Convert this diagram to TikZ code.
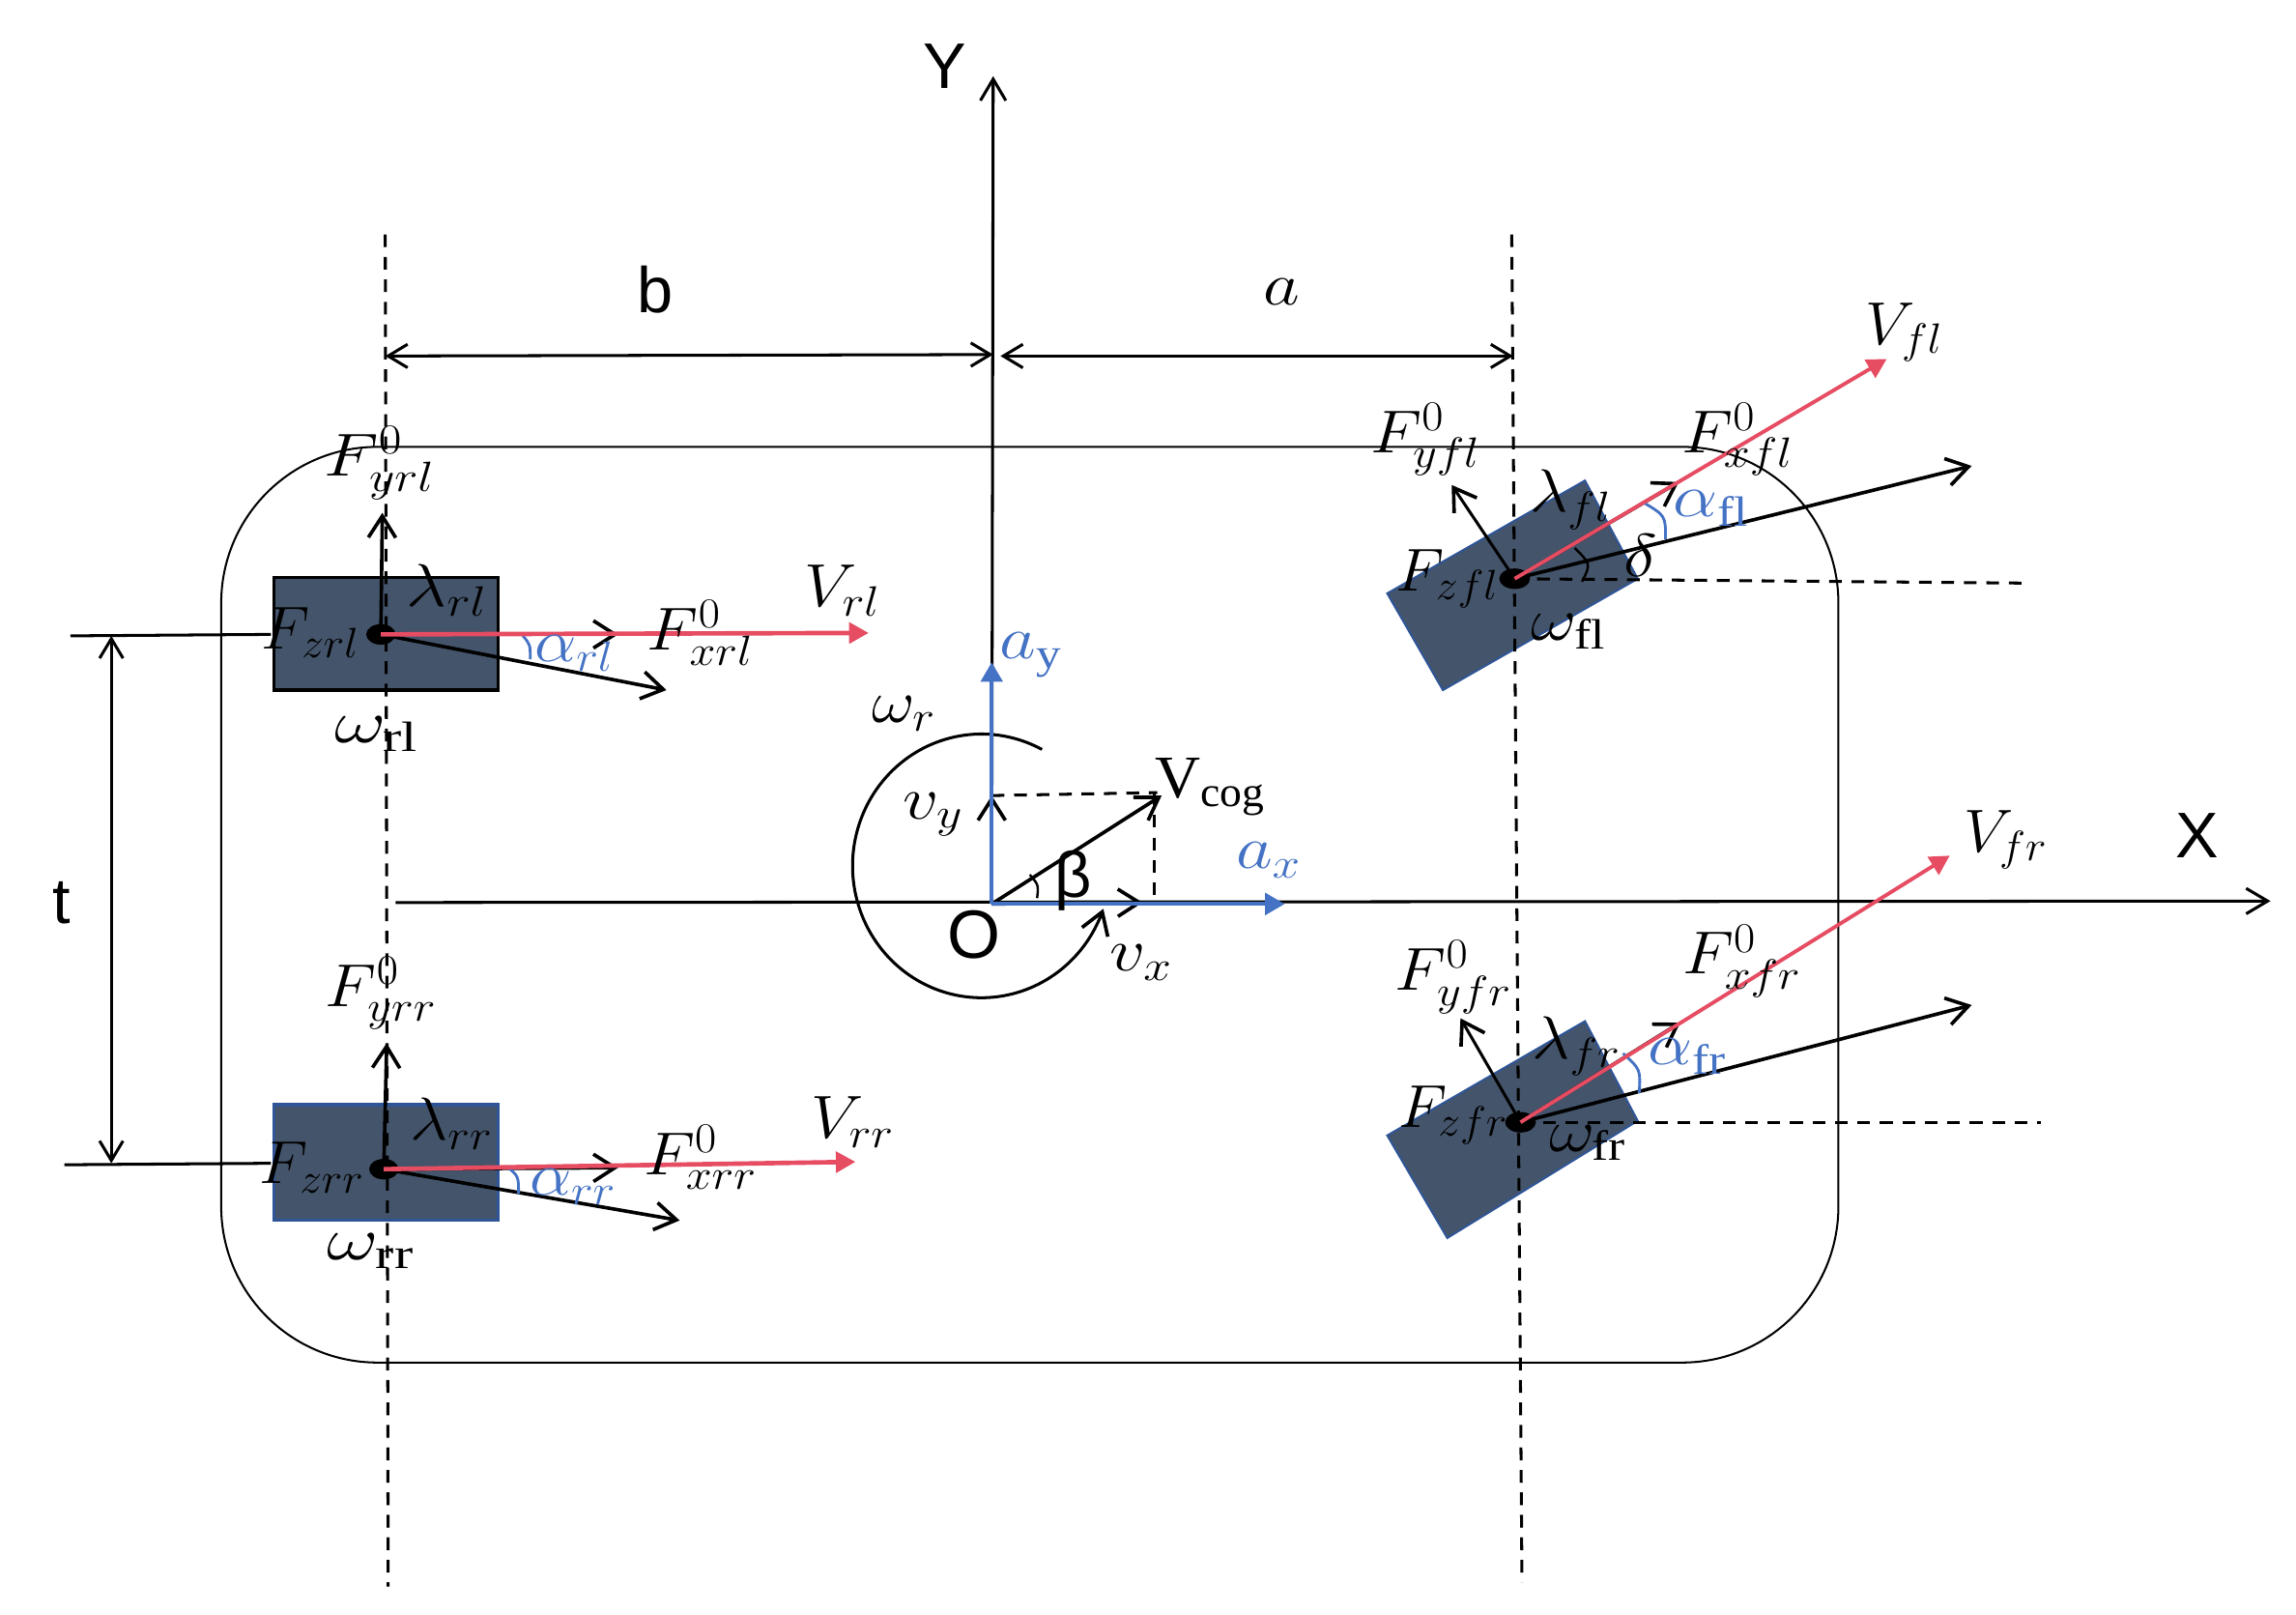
\RequirePackage{fix-cm}
\documentclass[tikz,border=0pt]{standalone}
\usepackage{fontspec}
\setmainfont{Liberation Serif}
\newfontfamily\sansf{Liberation Sans}
\usetikzlibrary{arrows.meta}
\definecolor{wheel}{HTML}{44546A}
\definecolor{wheeledge}{HTML}{2F5597}
\definecolor{redv}{HTML}{E64C62}
\definecolor{bluev}{HTML}{4472C4}
\newcommand\Mt[1]{\scalebox{1.17}[1]{$#1$}}
\newcommand\Mf[1]{\scalebox{1.1}[1]{$#1$}}
\newcommand\Mn[1]{\scalebox{1.04}[1]{$#1$}}
\newcommand\Mw[1]{\scalebox{1.32}[1]{$#1$}}
\tikzset{
  lab/.style={inner sep=0pt,font=\fontsize{31}{31}\selectfont,text=black},
  blab/.style={lab,text=bluev},
  slab/.style={inner sep=0pt,font=\fontsize{33}{33}\selectfont\sansf,text=black},
  openarrow/.style={-{Straight Barb[length=11pt,width=14pt,line width=1.8pt]},line width=1.8pt,black},
  axisline/.style={-{Straight Barb[length=11pt,width=13pt,line width=1.5pt]},line width=1.5pt,black},
  dimline/.style={{Straight Barb[length=10pt,width=12pt,line width=1.5pt]}-{Straight Barb[length=10pt,width=12pt,line width=1.5pt]},line width=1.5pt,black},
  redarrow/.style={-{Triangle[length=10pt,width=10.5pt]},line width=2.3pt,redv},
  bluearrow/.style={-{Triangle[length=10pt,width=11pt]},line width=2.1pt,bluev},
  dashline/.style={line width=1.5pt,black,dash pattern=on 6.5pt off 5pt},
  bluearc/.style={line width=1.4pt,bluev},
  bodyline/.style={line width=1pt,black}
}
\begin{document}
\begin{tikzpicture}[x=0.75pt,y=-0.75pt]
\path[use as bounding box,fill=white] (0,0) rectangle (1567.4,1102.3);
% wheel centres and free ends
\coordinate (rl) at (260,433);
\coordinate (rr) at (262,798);
\coordinate (fl) at (1034,395);
\coordinate (fr) at (1038,766);
\coordinate (O) at (677,617);
% body
\draw[bodyline,rounded corners=80pt] (151,305) rectangle (1255,930);
% wheels
\draw[fill=wheel,draw=black,line width=1.6pt] (187,394) rectangle (340,471);
\draw[fill=wheel,draw=wheeledge,line width=1.6pt] (187,754) rectangle (340,833);
\draw[fill=wheel,draw=wheeledge,line width=1pt] (1082,328) -- (1118,395) -- (985,471) -- (947,405) -- cycle;
\draw[fill=wheel,draw=wheeledge,line width=1pt] (1082,697) -- (1118,765) -- (988,845) -- (947,775) -- cycle;
% axle lines
\draw[dashline] (263,160) -- (265,1083);
\draw[dashline] (1032,160) -- (1039,1080);
\draw[dashline] (fl) -- (1383,398);
\draw[dashline] (fr) -- (1393,766);
% axes
\coordinate (Ytip) at (678,52);
\coordinate (Xtip) at (1550,615);
\coordinate (Xstart) at (270,616);
\draw[axisline] (O) -- (Ytip);
\draw[axisline] (Xstart) -- (Xtip);
% dimensions
\draw[dimline] (263,243) -- (678,242);
\draw[dimline] (683,243) -- (1033,243);
\draw[dimline] (76,434) -- (76,794);
\draw[line width=1.5pt] (48,434) -- (185,433);
\draw[line width=1.5pt] (44,795) -- (185,794);
% rear left
\draw[openarrow] (rl) -- (261,350);
\draw[openarrow] (rl) -- (422,433);
\draw[openarrow] (rl) -- (455,471);
\draw[bluearc] (357,434) .. controls (362,440) .. (362,450);
% rear right
\draw[openarrow] (rr) -- (264,712);
\draw[openarrow] (rr) -- (422,797);
\draw[openarrow] (rr) -- (464,833);
\draw[bluearc] (347,797) .. controls (354,803) .. (354,815);
% front left
\draw[openarrow,line width=1.5pt] (fl) -- (991,331);
\draw[openarrow] (fl) -- (1146,329);
\draw[openarrow] (fl) -- (1346,318);
\draw[bluearc] (1122,343) .. controls (1137,352) .. (1137,368);
\draw[line width=1.2pt] (1075,374) .. controls (1086,385) .. (1080,397);
% front right
\draw[openarrow,line width=1.5pt] (fr) -- (997,695);
\draw[openarrow] (fr) -- (1147,698);
\draw[openarrow] (fr) -- (1346,686);
\draw[bluearc] (1108,719) .. controls (1120,730) .. (1119,746);
% dots
\fill (rl) ellipse [x radius=10,y radius=7];
\fill (rr) ellipse [x radius=10,y radius=7];
\fill (fl) ellipse [x radius=10.5,y radius=7];
\fill (fr) ellipse [x radius=10.5,y radius=7];
\draw[redarrow] (rl) -- (593,432);
\draw[redarrow] (rr) -- (584,793);
\draw[redarrow,line width=1.9pt] (fl) -- (1288,245);
\draw[redarrow,line width=1.9pt] (fr) -- (1331,584);
% centre of gravity
\draw[dashline] (677,543) -- (790,541);
\draw[dashline] (788,541) -- (788,617);
\draw[openarrow] (O) -- (677,543);
\draw[openarrow] (O) -- (780,616);
\draw[openarrow] (O) -- (793,543);
\draw[line width=1.2pt] (703,597) .. controls (709,604) .. (708,613);
\draw[openarrow,line width=1.5pt] plot[domain=62:341,samples=70,smooth] ({670+88*cos(\x)},{591-90*sin(\x)});
\draw[bluearrow] (O) -- (677,452);
\draw[bluearrow] (O) -- (877,617);
% labels
\node[slab] (Y) at (645,45) {Y};
\node[slab] (X) at (1500,570) {X};
\node[slab,font=\fontsize{35}{35}\selectfont\sansf] (Olab) at (665,638) {O};
\node[slab] (b) at (447,198) {b};
\node[lab] (a) at (875,199) {\Mt{a}};
\node[slab] (t) at (42,616) {t};
\node[slab] (beta) at (733,601) {β};
\node[lab] (wr) at (617,487) {\Mf{\omega_r}};
\node[lab] (vcog) at (826,537) {\Mn{\mathrm{V}_{\mathrm{cog}}}};
\node[lab] (vy) at (637,556) {\Mt{v_y}};
\node[lab] (vx) at (779,657) {\Mt{v_x}};
\node[blab] (ay) at (704,447) {\Mt{a_{\mathrm{y}}}};
\node[blab] (ax) at (866,587) {\Mt{a_x}};
% rear left labels
\node[lab] (Fyrl) at (259,316) {\Mt{F^0_{yrl}}};
\node[lab] (lrl) at (305,403) {\Mt{\lambda_{rl}}};
\node[lab] (Fzrl) at (212,432) {\Mn{F_{zrl}}};
\node[blab] (arl) at (392,446) {\Mf{\alpha_{rl}}};
\node[lab] (Fxrl) at (478,432) {\Mf{F^0_{xrl}}};
\node[lab] (Vrl) at (575,403) {\Mf{V_{rl}}};
\node[lab] (wrl) at (257,501) {\Mw{\omega_{\mathrm{rl}}}};
% rear right labels
\node[lab] (Fyrr) at (260,678) {\Mf{F^0_{yrr}}};
\node[lab] (lrr) at (308,767) {\Mf{\lambda_{rr}}};
\node[lab] (Fzrr) at (213,797) {\Mn{F_{zrr}}};
\node[blab] (arr) at (391,810) {\Mf{\alpha_{rr}}};
\node[lab] (Fxrr) at (478,790) {\Mf{F^0_{xrr}}};
\node[lab] (Vrr) at (582,766) {\Mf{V_{rr}}};
\node[lab] (wrr) at (253,854) {\Mw{\omega_{\mathrm{rr}}}};
% front left labels
\node[lab] (Fyfl) at (973,300) {\Mf{F^0_{yfl}}};
\node[lab] (Fxfl) at (1186,300) {\Mf{F^0_{xfl}}};
\node[lab] (lfl) at (1072,341) {\Mf{\lambda_{fl}}};
\node[lab] (Fzfl) at (988,395) {\Mn{F_{zfl}}};
\node[lab] (wfl) at (1071,431) {\Mt{\omega_{\mathrm{fl}}}};
\node[lab] (delta) at (1120,379) {\Mt{\delta}};
\node[blab] (afl) at (1168,347) {\Mt{\alpha_{\mathrm{fl}}}};
\node[lab] (Vfl) at (1300,227) {\Mn{V_{fl}}};
% front right labels
\node[lab] (Fyfr) at (992,667) {\Mf{F^0_{yfr}}};
\node[lab] (Fxfr) at (1189,656) {\Mf{F^0_{xfr}}};
\node[lab] (lfr) at (1076,714) {\Mf{\lambda_{fr}}};
\node[lab] (Fzfr) at (992,761) {\Mn{F_{zfr}}};
\node[lab] (wfr) at (1084,780) {\Mt{\omega_{\mathrm{fr}}}};
\node[blab] (afr) at (1152,721) {\Mt{\alpha_{\mathrm{fr}}}};
\node[lab] (Vfr) at (1369,573) {\Mn{V_{fr}}};
\end{tikzpicture}
\end{document}
